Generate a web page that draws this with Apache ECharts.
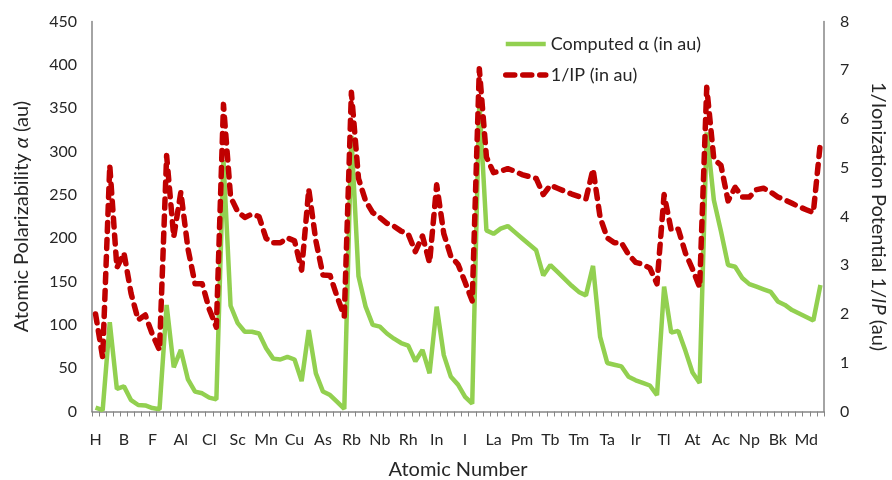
<!DOCTYPE html>
<html>
<head>
<meta charset="utf-8">
<script src="https://cdn.jsdelivr.net/npm/echarts@6/dist/echarts.min.js"></script>
<style>
  html, body { margin: 0; padding: 0; background: #fff; }
  #chart { width: 892px; height: 480px; }
</style>
</head>
<body>
<div id="chart"></div>
<script>
// elements Z = 1..103
const elements = ['H','He','Li','Be','B','C','N','O','F','Ne',
  'Na','Mg','Al','Si','P','S','Cl','Ar','K','Ca',
  'Sc','Ti','V','Cr','Mn','Fe','Co','Ni','Cu','Zn',
  'Ga','Ge','As','Se','Br','Kr','Rb','Sr','Y','Zr',
  'Nb','Mo','Tc','Ru','Rh','Pd','Ag','Cd','In','Sn',
  'Sb','Te','I','Xe','Cs','Ba','La','Ce','Pr','Nd',
  'Pm','Sm','Eu','Gd','Tb','Dy','Ho','Er','Tm','Yb',
  'Lu','Hf','Ta','W','Re','Os','Ir','Pt','Au','Hg',
  'Tl','Pb','Bi','Po','At','Rn','Fr','Ra','Ac','Th',
  'Pa','U','Np','Pu','Am','Cm','Bk','Cf','Es','Fm',
  'Md','No','Lr'];

// computed polarizability (au), left axis
const alpha = [4.5, 1.5, 103, 26, 29, 13, 7.5, 7, 4, 2.5,
  123, 51, 71, 37, 23, 21, 16, 14, 290, 122,
  102, 92, 92, 90, 73, 61, 60, 63, 60, 35,
  94, 44, 23, 19, 11, 3, 318, 156, 121, 100,
  98, 90, 84, 79, 76, 58, 71, 44, 121, 65,
  40, 31, 17, 9, 358, 209, 205, 211, 214, 207,
  200, 193, 186, 157, 169, 161, 153, 145, 138, 134,
  168, 86, 56, 54, 52, 40, 36, 33, 30, 19,
  144, 91, 93, 70, 45, 33, 322, 244, 208, 169,
  167, 154, 147, 144, 141, 138, 127, 123, 117, 113,
  109, 105, 146];

// 1/IP (au), right axis
const invIP = [2.00, 1.11, 5.05, 2.95, 3.25, 2.42, 1.88, 1.98, 1.58, 1.26,
  5.25, 3.58, 4.50, 3.34, 2.62, 2.62, 2.10, 1.73, 6.30, 4.40,
  4.10, 3.98, 4.05, 4.00, 3.55, 3.46, 3.46, 3.56, 3.50, 2.90,
  4.56, 3.50, 2.80, 2.79, 2.35, 1.95, 6.55, 4.78, 4.32, 4.08,
  3.98, 3.86, 3.80, 3.70, 3.64, 3.28, 3.60, 3.05, 4.65, 3.65,
  3.18, 3.02, 2.65, 2.27, 7.03, 5.22, 4.90, 4.93, 4.98, 4.93,
  4.86, 4.82, 4.78, 4.45, 4.64, 4.58, 4.52, 4.46, 4.41, 4.36,
  4.97, 3.98, 3.56, 3.46, 3.46, 3.22, 3.06, 3.02, 2.94, 2.62,
  4.45, 3.72, 3.74, 3.25, 2.92, 2.55, 6.65, 5.18, 5.05, 4.32,
  4.60, 4.40, 4.40, 4.55, 4.58, 4.50, 4.40, 4.34, 4.27, 4.20,
  4.14, 4.08, 5.53];

const txt = '#262626';
const axisGrey = '#868686';
const green = '#92D050';
const red = '#C00000';
const font = 'Lato, "Open Sans", sans-serif';
const redDash = [9, 8];

const chart = echarts.init(document.getElementById('chart'));
chart.setOption({
  animation: false,
  textStyle: { fontFamily: font, color: txt },
  grid: { left: 92, right: 68, top: 21.5, bottom: 68.5, outerBoundsMode: 'none', containLabel: false },
  legend: {
    orient: 'vertical',
    left: 503,
    top: 35,
    padding: 0,
    itemWidth: 40,
    itemHeight: 18,
    itemGap: 13,
    itemStyle: { color: 'rgba(0,0,0,0)', borderWidth: 0 },
    textStyle: { fontSize: 18, color: txt, fontFamily: font },
    data: [
      { name: 'Computed α (in au)', lineStyle: { color: green, width: 4.5 } },
      { name: '1/IP (in au)', lineStyle: { color: red, width: 5.5, type: redDash, cap: 'round' } }
    ]
  },
  xAxis: {
    type: 'category',
    data: elements,
    boundaryGap: true,
    name: 'Atomic Number',
    nameLocation: 'middle',
    nameGap: 48,
    nameTextStyle: { fontSize: 20, color: txt },
    axisLine: { lineStyle: { color: axisGrey, width: 1.5 } },
    axisTick: { show: true, interval: 0, length: 5, lineStyle: { color: axisGrey } },
    axisLabel: { interval: 3, fontSize: 16, color: txt, margin: 20 },
    splitLine: { show: false }
  },
  yAxis: [{
    type: 'value',
    min: 0, max: 450, interval: 50,
    name: 'Atomic Polarizability {i|α} (au)',
    nameLocation: 'middle',
    nameGap: 60,
    nameTextStyle: { fontSize: 20, color: txt, rich: { i: { fontStyle: 'italic', fontSize: 20, fontFamily: font } } },
    axisLine: { show: true, lineStyle: { color: axisGrey, width: 1.5 } },
    axisTick: { show: false },
    axisLabel: { fontSize: 16, color: txt, margin: 15 },
    splitLine: { show: false }
  }, {
    type: 'value',
    min: 0, max: 8, interval: 1,
    position: 'right',
    name: '1/Ionization Potential 1/{i|IP} (au)',
    nameLocation: 'middle',
    nameRotate: -90,
    nameGap: 44,
    nameTextStyle: { fontSize: 20, color: txt, rich: { i: { fontStyle: 'italic', fontSize: 20, fontFamily: font } } },
    axisLine: { show: true, lineStyle: { color: axisGrey, width: 1.5 } },
    axisTick: { show: false },
    axisLabel: { fontSize: 16, color: txt, margin: 16 },
    splitLine: { show: false }
  }],
  series: [{
    name: 'Computed α (in au)',
    type: 'line',
    data: alpha,
    yAxisIndex: 0,
    symbol: 'none',
    lineStyle: { color: green, width: 4.5 },
    itemStyle: { color: green }
  }, {
    name: '1/IP (in au)',
    type: 'line',
    data: invIP,
    yAxisIndex: 1,
    symbol: 'none',
    lineStyle: { color: red, width: 5.5, type: redDash, cap: 'round', join: 'round' },
    itemStyle: { color: red }
  }]
});
</script>
</body>
</html>
